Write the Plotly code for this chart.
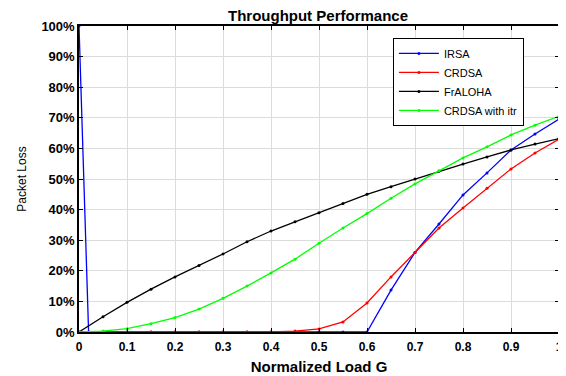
import plotly.graph_objects as go

G = [0, 0.05, 0.1, 0.15, 0.2, 0.25, 0.3, 0.35, 0.4, 0.45, 0.5,
     0.55, 0.6, 0.65, 0.7, 0.75, 0.8, 0.85, 0.9, 0.95, 1.0]

irsa_x = [0, 0.02, 0.05, 0.1, 0.15, 0.2, 0.25, 0.3, 0.35, 0.4, 0.45, 0.5,
          0.55, 0.6, 0.65, 0.7, 0.75, 0.8, 0.85, 0.9, 0.95, 1.0]
irsa = [1.0, 0.0, 0, 0, 0, 0, 0, 0, 0, 0, 0, 0,
        0, 0.0, 0.137, 0.26, 0.353, 0.448, 0.52, 0.595, 0.647, 0.696]
crdsa = [0, 0, 0, 0, 0, 0, 0, 0, 0, 0.003, 0.01,
         0.033, 0.095, 0.18, 0.26, 0.34, 0.405, 0.47, 0.533, 0.585, 0.63]
fraloha = [0, 0.05, 0.097, 0.14, 0.18, 0.217, 0.255, 0.295, 0.33, 0.36, 0.39,
           0.42, 0.45, 0.475, 0.50, 0.525, 0.549, 0.572, 0.595, 0.614, 0.632]
crdsa_itr = [0, 0.003, 0.011, 0.027, 0.047, 0.075, 0.11, 0.15, 0.193, 0.238, 0.29,
             0.34, 0.387, 0.437, 0.484, 0.527, 0.569, 0.605, 0.644, 0.676, 0.705]

x_ticks = [0, 0.1, 0.2, 0.3, 0.4, 0.5, 0.6, 0.7, 0.8, 0.9, 1]
x_labels = ["0", "0.1", "0.2", "0.3", "0.4", "0.5", "0.6", "0.7", "0.8", "0.9", "1"]
y_ticks = [0, 0.1, 0.2, 0.3, 0.4, 0.5, 0.6, 0.7, 0.8, 0.9, 1.0]
y_labels = ["0%", "10%", "20%", "30%", "40%", "50%", "60%", "70%", "80%", "90%", "100%"]

series = [
    ("IRSA", irsa_x, irsa, "#0000ff"),
    ("CRDSA", G, crdsa, "#ff0000"),
    ("FrALOHA", G, fraloha, "#000000"),
    ("CRDSA with itr", G, crdsa_itr, "#00ff00"),
]

fig = go.Figure()
for name, xs, ys, col in series:
    fig.add_trace(go.Scatter(
        x=xs, y=ys, name=name, mode="lines+markers",
        line=dict(color=col, width=1.3),
        marker=dict(color=col, size=3),
    ))

# the page body has an 8px margin, so the figure is sized to fit the window
W, H = 558, 368
font = "Liberation Sans, Arial, sans-serif"
fig.update_layout(
    width=W, height=H,
    margin=dict(l=71, r=7, t=18, b=44),
    paper_bgcolor="white", plot_bgcolor="white",
    title=dict(text="<b>Throughput Performance</b>", x=310 / W, xanchor="center",
               y=1 - 8 / H, yanchor="middle",
               font=dict(family=font, size=15, color="black")),
    showlegend=True,
    legend=dict(x=0.654, y=0.961, xanchor="left", yanchor="top",
                bgcolor="white", bordercolor="black", borderwidth=1,
                font=dict(family=font, size=11, color="black"),
                tracegroupgap=0, itemwidth=40),
    xaxis=dict(range=[0, 1], tickvals=x_ticks, ticktext=x_labels, automargin=False,
               showgrid=True, gridcolor="#dcdcdc", gridwidth=1,
               zeroline=False, showline=True, linecolor="black", linewidth=1.5,
               mirror="ticks", ticks="inside", ticklen=4, tickcolor="black",
               ticklabelstandoff=3,
               tickfont=dict(family=font, size=12, color="black", weight="bold"),
               title=dict(text="Normalized Load G", standoff=8,
                          font=dict(family=font, size=15, color="black", weight="bold"))),
    yaxis=dict(range=[0, 1], tickvals=y_ticks, ticktext=y_labels, automargin=False,
               showgrid=True, gridcolor="#dcdcdc", gridwidth=1,
               zeroline=False, showline=True, linecolor="black", linewidth=1.5,
               mirror="ticks", ticks="inside", ticklen=4, tickcolor="black",
               tickfont=dict(family=font, size=13, color="black", weight="bold"),
               title=dict(text="Packet Loss", standoff=12,
                          font=dict(family=font, size=12, color="black"))),
)

fig.write_html("out.html")
